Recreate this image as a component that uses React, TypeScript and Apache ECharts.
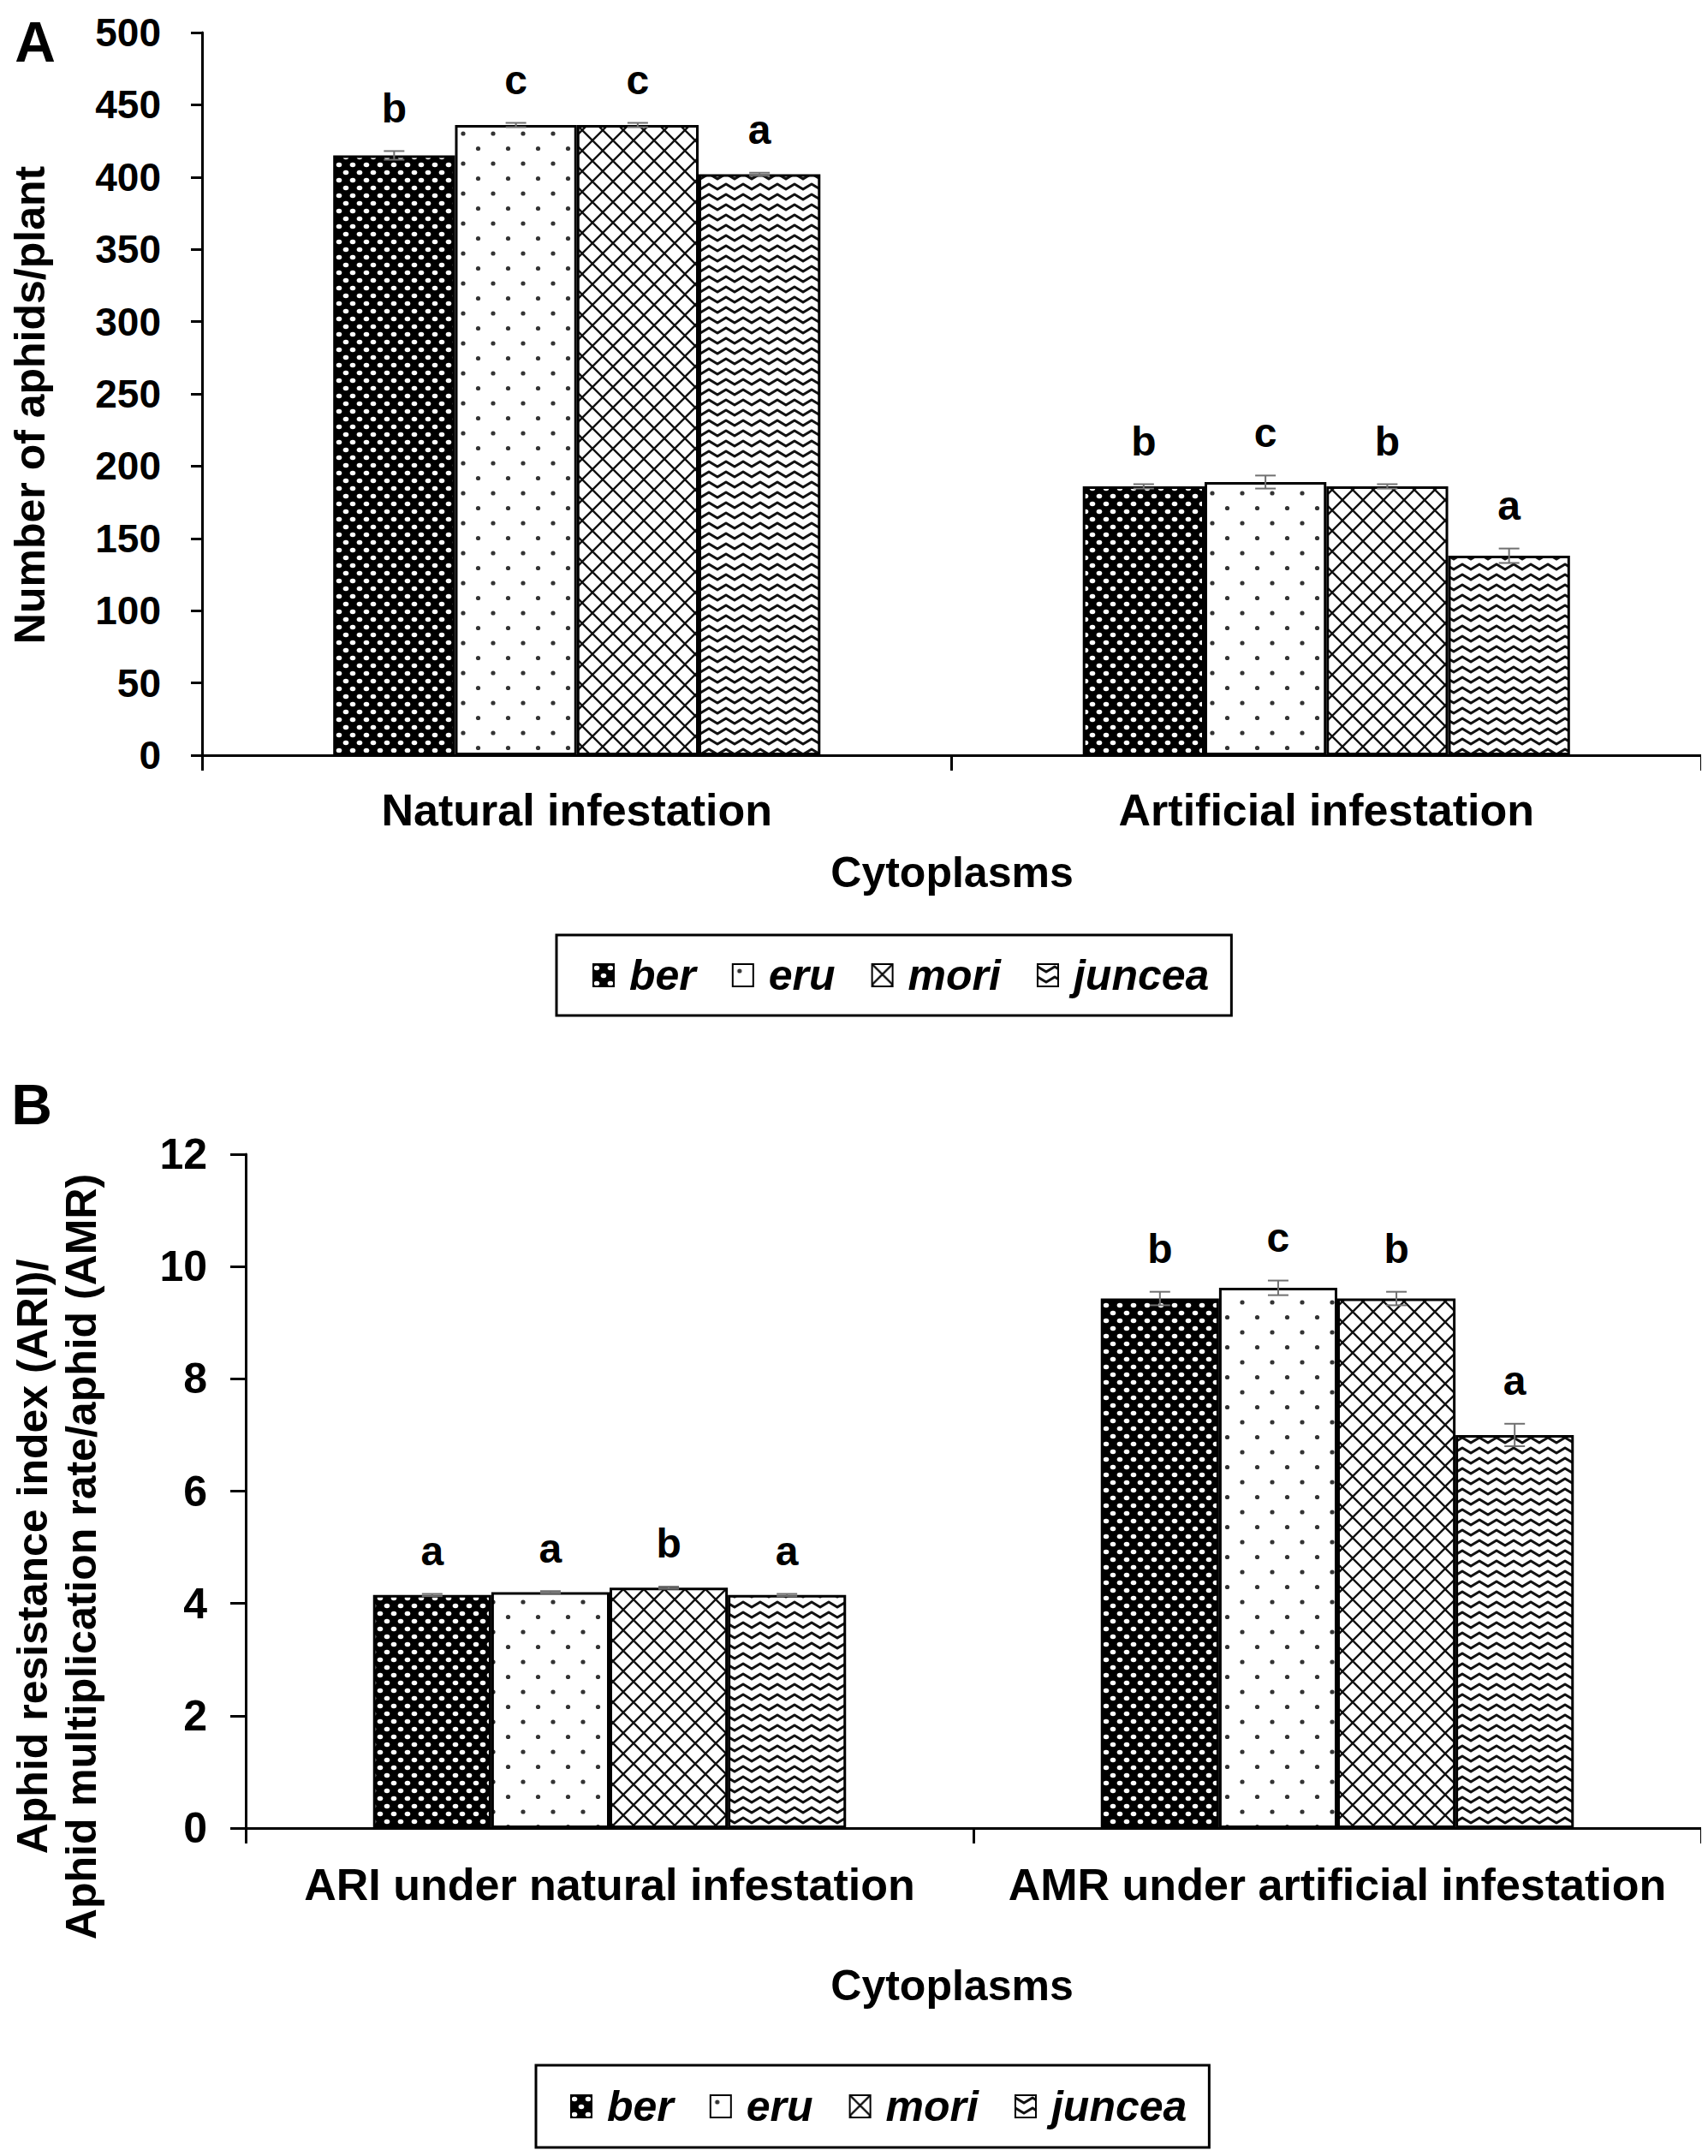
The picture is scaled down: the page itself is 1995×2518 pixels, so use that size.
import React, { useEffect, useRef } from "react";
import * as echarts from "echarts";

const FONT = '"Liberation Sans", Arial, Helvetica, sans-serif';

const SERIES_NAMES = ["ber", "eru", "mori", "juncea"];

// Panel A: number of aphids/plant
const CATS_A = ["Natural infestation", "Artificial infestation"];
const A_BER = [415, 186];
const A_ERU = [436, 189];
const A_MORI = [436, 186];
const A_JUNCEA = [402, 138];
const A_ERR_BER = [3, 1.5];
const A_ERR_ERU = [1.5, 4.5];
const A_ERR_MORI = [1.5, 1.5];
const A_ERR_JUNCEA = [1, 5];
const A_LETTERS_NATURAL = ["b", "c", "c", "a"];
const A_LETTERS_ARTIFICIAL = ["b", "c", "b", "a"];

// Panel B: ARI / AMR
const CATS_B = ["ARI under natural infestation", "AMR under artificial infestation"];
const B_BER = [4.15, 9.43];
const B_ERU = [4.2, 9.62];
const B_MORI = [4.28, 9.43];
const B_JUNCEA = [4.15, 7.0];
const B_ERR_BER = [0.02, 0.12];
const B_ERR_ERU = [0.02, 0.13];
const B_ERR_MORI = [0.02, 0.12];
const B_ERR_JUNCEA = [0.02, 0.2];
const B_LETTERS_ARI = ["a", "a", "b", "a"];
const B_LETTERS_AMR = ["b", "c", "b", "a"];

function makePattern(kind: string) {
  const c = document.createElement("canvas");
  let w = 16;
  let h = 18;
  if (kind === "ber") { w = 16; h = 18; }
  if (kind === "eru") { w = 35; h = 35; }
  if (kind === "mori") { w = 24; h = 24; }
  if (kind === "juncea") { w = 20; h = 12; }
  c.width = w;
  c.height = h;
  const ctx = c.getContext("2d") as CanvasRenderingContext2D;
  if (kind === "ber") {
    ctx.fillStyle = "#000";
    ctx.fillRect(0, 0, w, h);
    ctx.fillStyle = "#fff";
    const pts = [[4, 4.5], [12, 13.5], [20, 4.5], [-4, 13.5]];
    pts.forEach(([x, y]) => {
      ctx.beginPath();
      ctx.ellipse(x, y, 3.3, 2.7, 0, 0, Math.PI * 2);
      ctx.fill();
    });
  } else if (kind === "eru") {
    ctx.fillStyle = "#fff";
    ctx.fillRect(0, 0, w, h);
    ctx.fillStyle = "#333";
    [[8, 8], [25.5, 25.5]].forEach(([x, y]) => {
      ctx.beginPath();
      ctx.arc(x, y, 2.6, 0, Math.PI * 2);
      ctx.fill();
    });
  } else if (kind === "mori") {
    ctx.fillStyle = "#fff";
    ctx.fillRect(0, 0, w, h);
    ctx.strokeStyle = "#111";
    ctx.lineWidth = 2.4;
    ctx.beginPath();
    ctx.moveTo(0, 0); ctx.lineTo(w, h);
    ctx.moveTo(w, 0); ctx.lineTo(0, h);
    ctx.stroke();
  } else if (kind === "juncea") {
    ctx.fillStyle = "#fff";
    ctx.fillRect(0, 0, w, h);
    ctx.strokeStyle = "#111";
    ctx.lineWidth = 3.2;
    ctx.lineJoin = "round";
    ctx.beginPath();
    ctx.moveTo(-5, 6);
    ctx.lineTo(0, 3);
    ctx.lineTo(10, 9);
    ctx.lineTo(20, 3);
    ctx.lineTo(25, 6);
    ctx.stroke();
  }
  return { image: c, repetition: "repeat", imageWidth: w, imageHeight: h } as any;
}

function errorData(values: number[][], errs: number[][]) {
  const rows: number[][] = [];
  for (let c = 0; c < 2; c++) {
    for (let s = 0; s < 4; s++) {
      rows.push([c, s, values[s][c], errs[s][c]]);
    }
  }
  return rows;
}

function makeErrRenderer(letters: string[][], offset: number, fontSize: number) {
  return (params: any, api: any) => {
    const cat = api.value(0);
    const s = api.value(1);
    const v = api.value(2);
    const e = api.value(3);
    const base = api.coord([cat, v]);
    const band = api.size([1, 0])[0];
    const bw = (band * 0.65) / 4;
    const x = base[0] + (s - 1.5) * bw;
    const yTop = api.coord([cat, v + e])[1];
    const yBot = api.coord([cat, v - e])[1];
    const cap = 12;
    const st = { stroke: "#707070", lineWidth: 2 };
    return {
      type: "group",
      children: [
        { type: "line", shape: { x1: x, y1: yTop, x2: x, y2: yBot }, style: st },
        { type: "line", shape: { x1: x - cap, y1: yTop, x2: x + cap, y2: yTop }, style: st },
        { type: "line", shape: { x1: x - cap, y1: yBot, x2: x + cap, y2: yBot }, style: st },
        {
          type: "text",
          x,
          y: yTop - offset,
          style: {
            text: letters[cat][s],
            font: `bold ${fontSize}px ${FONT}`,
            textAlign: "center",
            textVerticalAlign: "middle",
            fill: "#000",
          },
        },
      ],
    };
  };
}

export default function App() {
  const ref = useRef<HTMLDivElement>(null);

  useEffect(() => {
    if (!ref.current) return;
    const chart = echarts.init(ref.current, undefined, { renderer: "svg" });

    const patterns = SERIES_NAMES.map((n) => makePattern(n));
    const aValues = [A_BER, A_ERU, A_MORI, A_JUNCEA];
    const aErrs = [A_ERR_BER, A_ERR_ERU, A_ERR_MORI, A_ERR_JUNCEA];
    const bValues = [B_BER, B_ERU, B_MORI, B_JUNCEA];
    const bErrs = [B_ERR_BER, B_ERR_ERU, B_ERR_MORI, B_ERR_JUNCEA];

    const axisLine = { show: true, lineStyle: { color: "#000", width: 3 } };
    const catLabel = { fontSize: 52, fontWeight: "bold", color: "#000", fontFamily: FONT, interval: 0 };

    const legendBase = {
      data: SERIES_NAMES,
      orient: "horizontal",
      icon: "rect",
      itemWidth: 24,
      itemHeight: 26,
      itemGap: 42,
      borderColor: "#000",
      borderWidth: 3,
      selectedMode: false,
      itemStyle: { borderColor: "#000", borderWidth: 2 },
      textStyle: {
        fontSize: 50,
        fontWeight: "bold",
        fontStyle: "italic",
        color: "#000",
        fontFamily: FONT,
        padding: [0, 0, 0, 13],
      },
    };

    const barSeries = (gridIdx: number, values: number[][]) =>
      SERIES_NAMES.map((name, i) => ({
        name,
        type: "bar",
        xAxisIndex: gridIdx,
        yAxisIndex: gridIdx,
        data: values[i],
        barGap: "0%",
        barCategoryGap: "35%",
        itemStyle: { color: patterns[i], borderColor: "#000", borderWidth: 3 },
        emphasis: { disabled: true },
      }));

    const option: any = {
      animation: false,
      backgroundColor: "#fff",
      grid: [
        { left: 228, top: 30, width: 1753, height: 844 },
        { left: 279, top: 1340, width: 1702, height: 787 },
      ],
      xAxis: [
        {
          type: "category",
          gridIndex: 0,
          data: CATS_A,
          axisLine,
          axisTick: { show: true, length: 18, lineStyle: { color: "#000", width: 3 } },
          axisLabel: { ...catLabel, margin: 38 },
          splitLine: { show: false },
        },
        {
          type: "category",
          gridIndex: 1,
          data: CATS_B,
          axisLine,
          axisTick: { show: true, length: 18, lineStyle: { color: "#000", width: 3 } },
          axisLabel: { ...catLabel, margin: 40 },
          splitLine: { show: false },
        },
      ],
      yAxis: [
        {
          type: "value",
          gridIndex: 0,
          min: 0,
          max: 500,
          interval: 50,
          axisLine,
          axisTick: { show: true, length: 13, lineStyle: { color: "#000", width: 3 } },
          axisLabel: { fontSize: 46, fontWeight: "bold", color: "#000", fontFamily: FONT, margin: 48 },
          splitLine: { show: false },
        },
        {
          type: "value",
          gridIndex: 1,
          min: 0,
          max: 12,
          interval: 2,
          axisLine,
          axisTick: { show: true, length: 18, lineStyle: { color: "#000", width: 3 } },
          axisLabel: { fontSize: 50, fontWeight: "bold", color: "#000", fontFamily: FONT, margin: 45 },
          splitLine: { show: false },
        },
      ],
      legend: [
        { ...legendBase, left: 642, top: 1084, padding: [22, 26, 22, 42] },
        { ...legendBase, left: 618, top: 2404, padding: [23, 26, 23, 40] },
      ],
      series: [
        ...barSeries(0, aValues),
        ...barSeries(1, bValues),
        {
          type: "custom",
          name: "errA",
          xAxisIndex: 0,
          yAxisIndex: 0,
          z: 5,
          encode: { x: 0, y: 2 },
          data: errorData(aValues, aErrs),
          renderItem: makeErrRenderer([A_LETTERS_NATURAL, A_LETTERS_ARTIFICIAL], 50, 48),
        },
        {
          type: "custom",
          name: "errB",
          xAxisIndex: 1,
          yAxisIndex: 1,
          z: 5,
          encode: { x: 0, y: 2 },
          data: errorData(bValues, bErrs),
          renderItem: makeErrRenderer([B_LETTERS_ARI, B_LETTERS_AMR], 50, 48),
        },
      ],
      graphic: [
        {
          type: "text",
          x: 33,
          y: 41,
          style: { text: "A", font: `bold 66px ${FONT}`, fill: "#000", textAlign: "center", textVerticalAlign: "middle" },
        },
        {
          type: "text",
          x: 29,
          y: 1282,
          style: { text: "B", font: `bold 66px ${FONT}`, fill: "#000", textAlign: "center", textVerticalAlign: "middle" },
        },
        {
          type: "text",
          x: 27,
          y: 465,
          rotation: Math.PI / 2,
          style: {
            text: "Number of aphids/plant",
            font: `bold 50px ${FONT}`,
            fill: "#000",
            textAlign: "center",
            textVerticalAlign: "middle",
          },
        },
        {
          type: "text",
          x: 58,
          y: 1810,
          rotation: Math.PI / 2,
          style: {
            text: "Aphid resistance index (ARI)/\nAphid multiplication rate/aphid (AMR)",
            font: `bold 50px ${FONT}`,
            lineHeight: 57,
            fill: "#000",
            textAlign: "center",
            textVerticalAlign: "middle",
          },
        },
        {
          type: "text",
          x: 1104,
          y: 1011,
          style: { text: "Cytoplasms", font: `bold 50px ${FONT}`, fill: "#000", textAlign: "center", textVerticalAlign: "middle" },
        },
        {
          type: "text",
          x: 1104,
          y: 2311,
          style: { text: "Cytoplasms", font: `bold 50px ${FONT}`, fill: "#000", textAlign: "center", textVerticalAlign: "middle" },
        },
      ],
    };

    chart.setOption(option);
    return () => chart.dispose();
  }, []);

  return <div ref={ref} style={{ width: "1979px", height: "2502px" }} />;
}
